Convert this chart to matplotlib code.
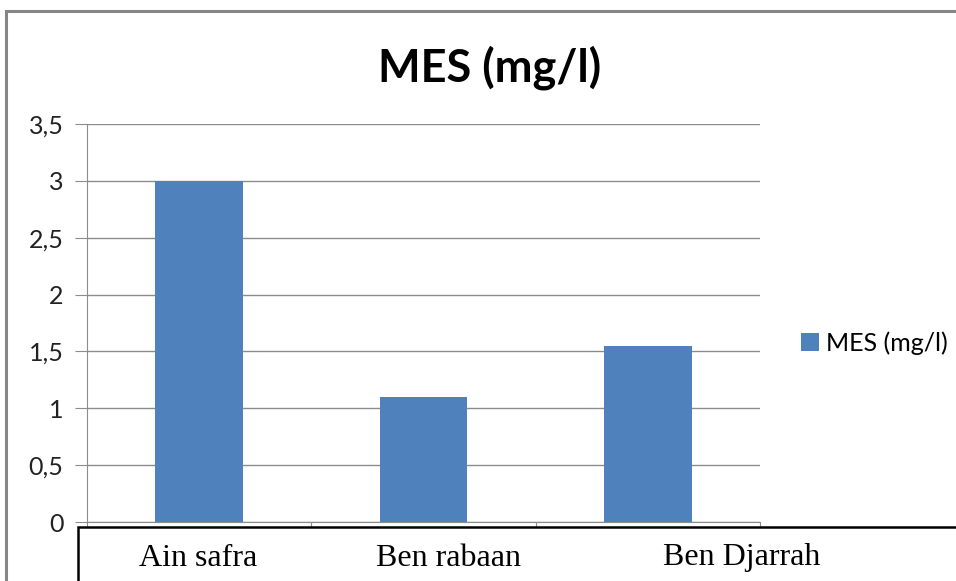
import matplotlib
matplotlib.use("Agg")
import matplotlib.pyplot as plt
from matplotlib.patches import Rectangle
from matplotlib.ticker import FuncFormatter, FixedLocator

categories = ["Ain safra", "Ben rabaan", "Ben Djarrah"]
values = [3.0, 1.1, 1.55]
series_name = "MES (mg/l)"
title = "MES (mg/l)"
yticks = [0, 0.5, 1, 1.5, 2, 2.5, 3, 3.5]

W, H = 956, 581
fig = plt.figure(figsize=(W / 100, H / 100), dpi=100)

def fx(px):
    return px / W

def fy(py):
    return 1 - py / H

# outer chart frame
fig.patches.append(Rectangle((fx(6), fy(600)), fx(1000) - fx(6), fy(11) - fy(600),
                             transform=fig.transFigure, fill=False,
                             edgecolor="#868686", linewidth=2.2, zorder=0))

ax = fig.add_axes([fx(87), fy(522), fx(760) - fx(87), fy(124) - fy(522)])
x = list(range(len(categories)))
ax.bar(x, values, width=0.39, color="#4F81BD", label=series_name, zorder=3)
ax.set_xlim(-0.5, len(categories) - 0.5)
ax.set_ylim(0, 3.5)
ax.yaxis.set_major_locator(FixedLocator(yticks))
ax.yaxis.set_major_formatter(FuncFormatter(lambda v, p: ("%g" % v).replace(".", ",")))
ax.grid(axis="y", color="#8c8c8c", linewidth=1.0, zorder=0)
for s in ["top", "right"]:
    ax.spines[s].set_visible(False)
ax.spines["left"].set_color("#8c8c8c")
ax.spines["bottom"].set_color("#8c8c8c")
ax.tick_params(axis="y", length=9, color="#8c8c8c", labelsize=18, pad=8,
               labelcolor="#222222")
ax.set_xticks([-0.5, 0.5, 1.5, 2.5])
ax.set_xticklabels([])
ax.tick_params(axis="x", length=5, color="#8c8c8c")
for lab in ax.get_yticklabels():
    lab.set_fontfamily("Lato")

fig.text(fx(490), fy(68), title, ha="center", va="center",
         fontsize=32.5, fontweight="bold", fontfamily="Lato")

# box with category labels (separate text box under the axis)
fig.patches.append(Rectangle((fx(78), fy(600)), fx(1000) - fx(78), fy(527) - fy(600),
                             transform=fig.transFigure, facecolor="white",
                             edgecolor="black", linewidth=1.8, zorder=5))
label_px = [198, 449, 742]
for px, c in zip(label_px, categories):
    fig.text(fx(px), fy(558), c, ha="center", va="center",
             fontsize=23, fontfamily="Liberation Serif", zorder=6)

leg = fig.legend(loc="center left", bbox_to_anchor=(fx(801), fy(343)), frameon=False,
                 prop={"family": "Lato", "size": 18}, handlelength=0.7, handleheight=0.7,
                 handletextpad=0.3, borderaxespad=0, borderpad=0)

fig.savefig("out.png", dpi=100)
